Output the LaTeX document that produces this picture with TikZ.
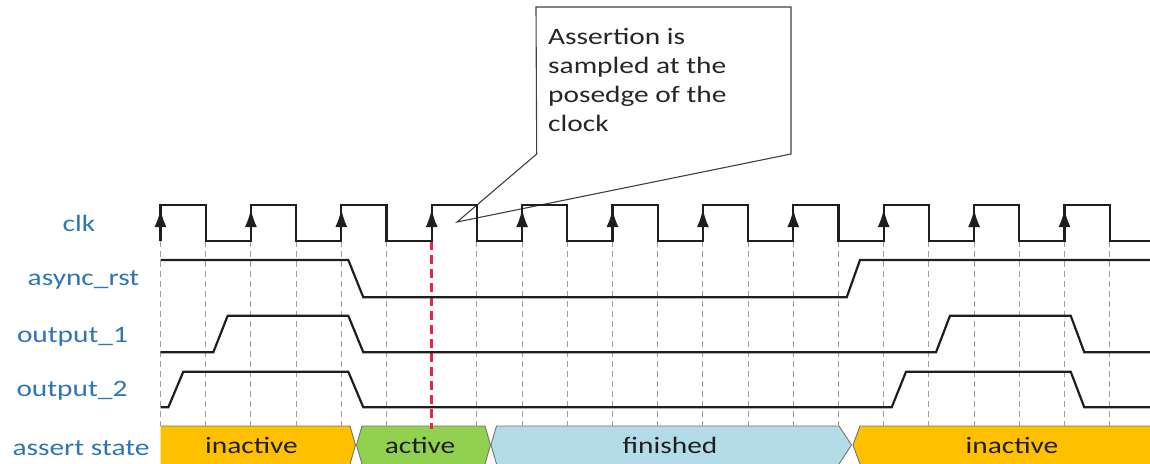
\documentclass[tikz,border=0pt]{standalone}
\usepackage{fontspec}
\setmainfont{Carlito}[FakeStretch=1.25]
\usetikzlibrary{arrows.meta}
\definecolor{lblblue}{HTML}{2E75B6}
\definecolor{stOrange}{HTML}{FFC000}
\definecolor{stGreen}{HTML}{92D050}
\definecolor{stCyan}{HTML}{B4DCE8}
\definecolor{wavecol}{HTML}{1E1E1E}
\definecolor{redcol}{HTML}{E8283C}
\newcommand\txtfont{\fontsize{23.5}{28}\selectfont}
\begin{document}
\begin{tikzpicture}[x=1pt,y=-1pt,
  wave/.style={line width=2.2pt, draw=wavecol, line join=miter},
  gridline/.style={draw=black!38, line width=1.1pt, dash pattern=on 6pt off 4pt},
  redline/.style={draw=redcol, line width=2.6pt, dash pattern=on 9pt off 5pt},
  edgearrow/.style={line width=2.2pt, draw=wavecol, -{Latex[length=18pt,width=12pt]}},
  siglabel/.style={text=lblblue, font=\txtfont, inner sep=0pt, anchor=base},
  statelabel/.style={text=black!88, font=\txtfont, inner sep=0pt, anchor=base},
  calltext/.style={text=black!85, font=\txtfont, inner sep=0pt, anchor=base west},
  statebox/.style={draw=black!55, line width=0.9pt, line join=miter}]
\useasboundingbox (0,0) rectangle (1150,463);

% callout
\filldraw[fill=white, draw=black!75, line width=1.1pt, line join=miter]
  (536,7) -- (791,7) -- (791,154) -- (457,222) -- (536.7,154) -- cycle;
\node[calltext] (c1) at (548,44) {Assertion is};
\node[calltext] (c2) at (548,73) {sampled at the};
\node[calltext] (c3) at (548,102) {posedge of the};
\node[calltext] (c4) at (548,131) {clock};

% state bar
\fill[stOrange] (160.5,426) -- (350,426) -- (355.5,445) -- (350,464) -- (160.5,464) -- cycle;
\draw[statebox] (160.5,426) -- (350,426) -- (355.5,445) -- (350,464);
\fill[stGreen] (362,426) -- (485,426) -- (490.5,445) -- (485,464) -- (362,464) -- (356.5,445) -- cycle;
\draw[statebox] (362,464) -- (356.5,445) -- (362,426) -- (485,426) -- (490.5,445) -- (485,464);
\fill[stCyan] (496.5,426) -- (839,426) -- (851.5,445) -- (839,464) -- (496.5,464) -- (491,445) -- cycle;
\draw[statebox] (496.5,464) -- (491,445) -- (496.5,426) -- (839,426) -- (851.5,445) -- (839,464);
\fill[stOrange] (860,426) -- (1150,426) -- (1150,464) -- (860,464) -- (853,445) -- cycle;
\draw[statebox] (860,464) -- (853,445) -- (860,426) -- (1150,426);

\node[statelabel] (s1) at (251.5,453.5) {inactive};
\node[statelabel] (s2) at (420,453.5) {active};
\node[statelabel] (s3) at (670,453.5) {finished};
\node[statelabel] (s4) at (1012,453.5) {inactive};

% dashed grid lines at every clock edge
\foreach \k in {0,...,21} {
  \ifnum\k=6\relax\else
    \draw[gridline] ({160.5+45.2*\k},241) -- ({160.5+45.2*\k},426);
  \fi
}
\draw[redline] (431.7,241) -- (431.7,429);

% clock
\draw[wave] (160.5,241) foreach \j in {0,...,9} { -- ++(0,-36) -- ++(45.2,0) -- ++(0,36) -- ++(45.2,0) }
  -- ++(0,-36) -- ++(45.2,0) -- ++(0,36) -- (1150,241);
\foreach \j in {0,...,10} {
  \draw[edgearrow] ({160.5+90.4*\j},241) -- ({160.5+90.4*\j},209);
}

% async_rst
\draw[wave] (160.5,260) -- (348.3,260) -- (363.3,297.3) -- (846.7,297.3) -- (860,260) -- (1150,260);
% output_1
\draw[wave] (160.5,352.3) -- (213.3,352.3) -- (227.7,315.7) -- (348.3,315.7) -- (363.3,352.3)
  -- (936,352.3) -- (950,315.7) -- (1070.7,315.7) -- (1084.3,352.3) -- (1150,352.3);
% output_2
\draw[wave] (160.5,407.3) -- (168.3,407.3) -- (183.3,371.7) -- (348.3,371.7) -- (363.3,407.3)
  -- (891.7,407.3) -- (906,371.7) -- (1070.7,371.7) -- (1084.3,407.3) -- (1150,407.3);

% signal labels
\node[siglabel] (lclk) at (79,231.7) {clk};
\node[siglabel] (lrst) at (83.5,285) {async\_rst};
\node[siglabel] (lo1) at (72.5,342.3) {output\_1};
\node[siglabel] (lo2) at (72,396) {output\_2};
\node[siglabel] (lst) at (81,455.5) {assert state};
\end{tikzpicture}
\end{document}
